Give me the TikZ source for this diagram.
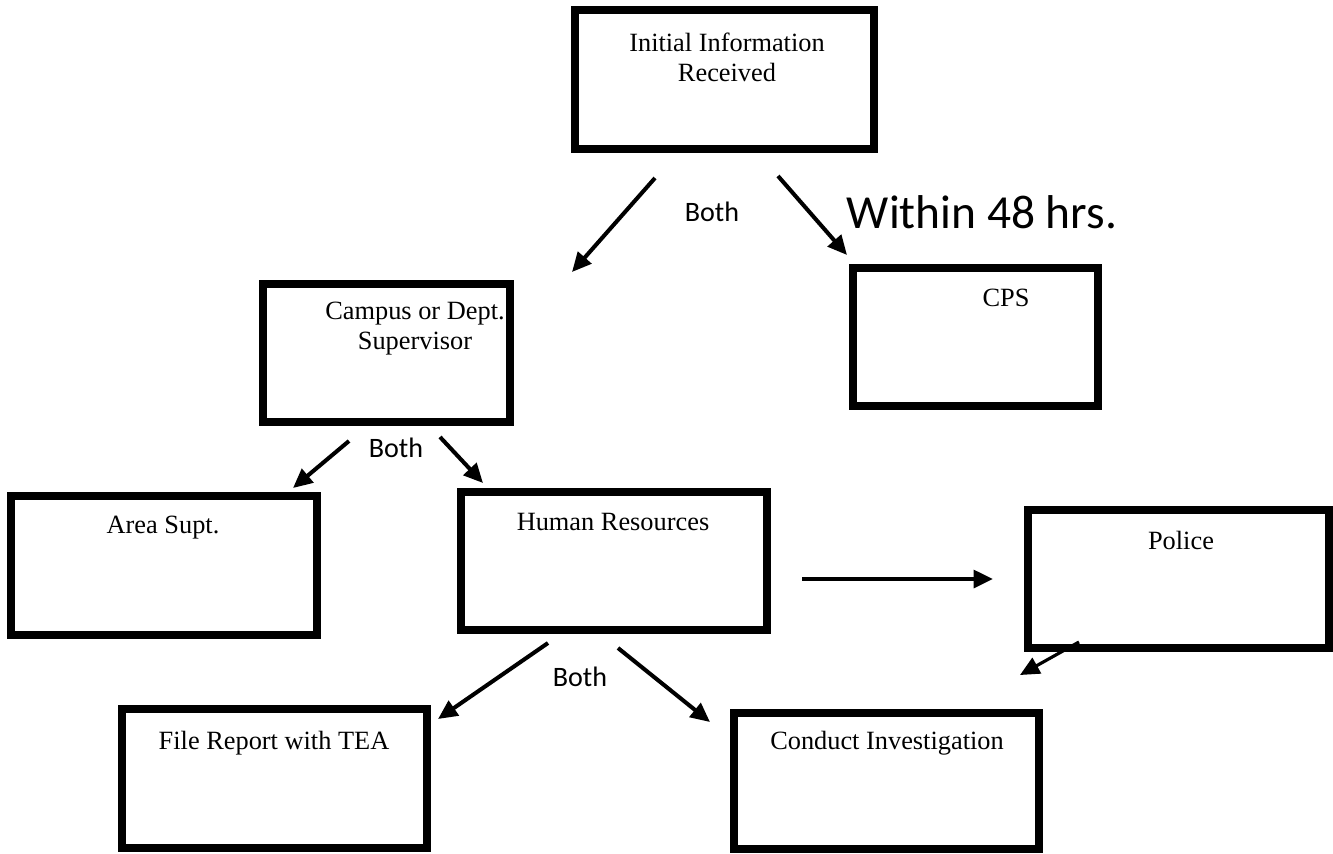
\documentclass[tikz,border=0pt]{standalone}
\usepackage{fontspec}
\setmainfont{Liberation Serif}
\newfontfamily\labelfont{Carlito}
\usetikzlibrary{arrows.meta}
\tikzset{
	box/.style 2 args={draw, line width=4.55pt, inner sep=0pt, minimum width=#1, minimum height=#2},
	boxtext/.style={align=center, font=\fontsize{15}{17}\selectfont},
	arr/.style={line width=2.3pt, -{Triangle[length=11pt,width=10pt]}},
	lbl/.style={font=\labelfont\fontsize{16}{19}\selectfont},
}

\begin{document}
\begin{tikzpicture}[x=0.02cm, y=-0.02cm]
	\useasboundingbox (0,0) rectangle (1333,853);
	% boxes
	\node [box={5.98cm}{2.78cm}] (0) at (724.5, 79.5) {};
	\node [box={4.94cm}{2.76cm}] (1) at (386.5, 353) {};
	\node [box={4.90cm}{2.76cm}] (2) at (975.5, 337) {};
	\node [box={6.12cm}{2.78cm}] (3) at (164, 565.5) {};
	\node [box={6.12cm}{2.76cm}] (4) at (614, 561) {};
	\node [box={6.02cm}{2.76cm}] (5) at (1178.5, 579) {};
	\node [box={6.10cm}{2.78cm}] (6) at (274.5, 778.5) {};
	\node [box={6.10cm}{2.72cm}] (7) at (886.5, 781) {};
	% box texts
	\node [boxtext] (10) at (727, 57) {Initial Information\\Received};
	\node [boxtext] (11) at (415, 329) {Campus or Dept.\\Supervisor};
	\node [boxtext] (12) at (1006, 298) {CPS};
	\node [boxtext] (13) at (163, 528) {Area Supt.};
	\node [boxtext] (14) at (613, 522) {Human Resources};
	\node [boxtext] (15) at (1181, 540) {Police};
	\node [boxtext] (16) at (274, 743) {File Report with TEA};
	\node [boxtext] (17) at (887, 743) {Conduct Investigation};
	% arrow ends
	\coordinate (20) at (655, 178);
	\coordinate (21) at (572, 272);
	\coordinate (22) at (778, 176);
	\coordinate (23) at (847, 255);
	\coordinate (24) at (349, 441);
	\coordinate (25) at (293, 488);
	\coordinate (26) at (440, 437);
	\coordinate (27) at (483, 483);
	\coordinate (28) at (802, 579);
	\coordinate (29) at (993, 579);
	\coordinate (30) at (1079, 642);
	\coordinate (31) at (1020, 675);
	\coordinate (32) at (548, 643);
	\coordinate (33) at (438, 719);
	\coordinate (34) at (618, 648);
	\coordinate (35) at (710, 722);
	% labels
	\node [lbl] (40) at (712, 212) {Both};
	\node [lbl] (41) at (396, 448) {Both};
	\node [lbl] (42) at (580, 677) {Both};
	\node [lbl, font=\labelfont\fontsize{27}{32}\selectfont] (43) at (982, 212) {Within 48 hrs.};
	% edges
	\draw [arr] (20) to (21);
	\draw [arr] (22) to (23);
	\draw [arr] (24) to (25);
	\draw [arr] (26) to (27);
	\draw [arr] (28) to (29);
	\draw [arr, line width=1.8pt] (30) to (31);
	\draw [arr] (32) to (33);
	\draw [arr] (34) to (35);
\end{tikzpicture}
\end{document}
